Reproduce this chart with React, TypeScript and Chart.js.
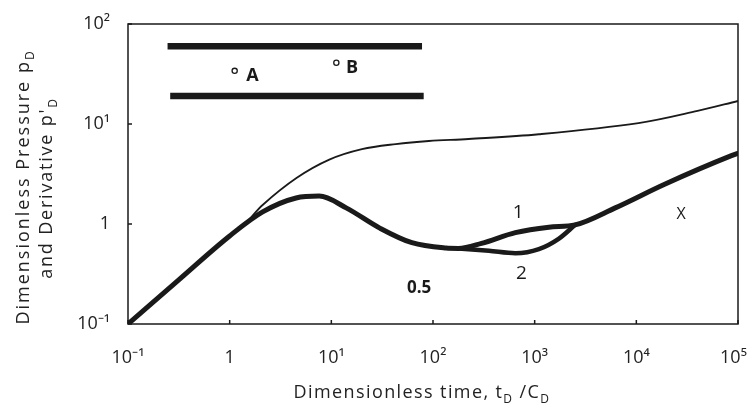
import React, { useEffect, useRef } from "react";
import { Chart, registerables } from "chart.js";

Chart.register(...registerables);

// Axis ticks
const timeTicks = [0.1, 1, 10, 100, 1000, 10000, 100000];
const timeTickLabels = ["10⁻¹", "1", "10¹", "10²", "10³", "10⁴", "10⁵\u2002"];
const pressTicks = [0.1, 1, 10, 100];
const pressTickLabels = ["10⁻¹", "1", "10¹", "10²"];

// Dimensionless pressure (thin curve)
const pressureTime = [0.1, 0.32, 1.0, 1.4, 2.11, 4.54, 9.55, 20, 43, 91, 224, 1100, 10500, 40000, 100000];
const pressureValue = [0.1, 0.28, 0.76, 0.99, 1.55, 2.88, 4.4, 5.6, 6.3, 6.76, 7.08, 7.9, 10.2, 13.5, 17];

// Pressure derivative, case 1 (full thick curve)
const deriv1Time = [0.1, 0.32, 1.0, 2.11, 4.5, 7.6, 14, 30, 62, 134, 178, 300, 646, 1380, 2500, 6200, 19000, 85000, 100000];
const deriv1Value = [0.1, 0.28, 0.76, 1.32, 1.82, 1.9, 1.45, 0.91, 0.65, 0.575, 0.57, 0.64, 0.82, 0.93, 0.98, 1.45, 2.5, 4.8, 5.1];

// Pressure derivative, case 2 (lower branch)
const deriv2Time = [178, 355, 646, 1100, 1720, 2500];
const deriv2Value = [0.57, 0.54, 0.51, 0.56, 0.71, 0.98];

// Reservoir sketch (two horizontal boundaries)
const boundaryTopTime = [0.245, 78];
const boundaryTopValue = [60, 60];
const boundaryBottomTime = [0.26, 81];
const boundaryBottomValue = [19, 19];

// Wells A and B
const wellTime = [1.12, 11.2];
const wellValue = [34, 41];

// Annotation texts
const noteTexts = ["A", "B", "1", "2", "0.5", "X"];
const noteTime = [1.68, 16, 690, 740, 73, 27500];
const noteValue = [30, 36, 1.29, 0.32, 0.23, 1.26];
const noteFonts = [
  "bold 18px 'Open Sans'",
  "bold 18px 'Open Sans'",
  "19px 'Open Sans'",
  "19px 'Open Sans'",
  "bold 17px 'Open Sans'",
  "16px 'Open Sans'",
];

const pts = (xs: number[], ys: number[]) => xs.map((x, i) => ({ x, y: ys[i] }));

const INK = "#1a1a1a";

const decorPlugin = {
  id: "decor",
  afterDatasetsDraw(chart: any) {
    const { ctx, chartArea: a, scales } = chart;
    const xs = scales.x;
    const ys = scales.y;
    ctx.save();
    ctx.strokeStyle = INK;
    ctx.lineWidth = 1.5;
    ctx.strokeRect(a.left, a.top, a.right - a.left, a.bottom - a.top);
    timeTicks.forEach((v) => {
      const px = xs.getPixelForValue(v);
      ctx.beginPath();
      ctx.moveTo(px, a.bottom);
      ctx.lineTo(px, a.bottom - 4);
      ctx.stroke();
    });
    pressTicks.forEach((v) => {
      const py = ys.getPixelForValue(v);
      ctx.beginPath();
      ctx.moveTo(a.left, py);
      ctx.lineTo(a.left + 4, py);
      ctx.stroke();
    });
    ctx.fillStyle = INK;
    ctx.textAlign = "center";
    ctx.textBaseline = "middle";
    noteTexts.forEach((t, i) => {
      ctx.font = noteFonts[i];
      ctx.fillText(t, xs.getPixelForValue(noteTime[i]), ys.getPixelForValue(noteValue[i]));
    });
    ctx.restore();
  },
  afterDraw(chart: any) {
    const { ctx } = chart;
    ctx.save();
    ctx.fillStyle = "#222";
    const base = "18px 'Open Sans'";
    const sub = "12px 'Open Sans'";
    const drawRich = (parts: [string, boolean][], ls: number) => {
      let w = 0;
      const widths: number[] = [];
      parts.forEach(([s, isSub]) => {
        ctx.font = isSub ? sub : base;
        (ctx as any).letterSpacing = ls + "px";
        const m = ctx.measureText(s).width;
        widths.push(m);
        w += m;
      });
      let x = -w / 2;
      parts.forEach(([s, isSub], i) => {
        ctx.font = isSub ? sub : base;
        (ctx as any).letterSpacing = ls + "px";
        ctx.fillText(s, x, isSub ? 5 : 0);
        x += widths[i];
      });
    };
    ctx.textAlign = "left";
    ctx.textBaseline = "alphabetic";
    ctx.save();
    ctx.translate(422, 398);
    drawRich(
      [
        ["Dimensionless time, t", false],
        ["D", true],
        [" /C", false],
        ["D", true],
      ],
      1.4
    );
    ctx.restore();
    ctx.save();
    ctx.translate(29, 187);
    ctx.rotate(-Math.PI / 2);
    drawRich(
      [
        ["Dimensionless Pressure p", false],
        ["D", true],
      ],
      2.0
    );
    ctx.restore();
    ctx.save();
    ctx.translate(52, 188);
    ctx.rotate(-Math.PI / 2);
    drawRich(
      [
        ["and Derivative p", false],
        ["'", false],
        ["D", true],
      ],
      1.8
    );
    ctx.restore();
    ctx.restore();
  },
};

export default function App() {
  const ref = useRef<HTMLCanvasElement | null>(null);
  useEffect(() => {
    if (!ref.current) return;
    const chart = new Chart(ref.current, {
      type: "line",
      data: {
        datasets: [
          {
            label: "Dimensionless pressure",
            data: pts(pressureTime, pressureValue),
            borderColor: INK,
            borderWidth: 1.8,
            pointRadius: 0,
            tension: 0.35,
          },
          {
            label: "Derivative 1",
            data: pts(deriv1Time, deriv1Value),
            borderColor: INK,
            borderWidth: 5,
            borderCapStyle: "round",
            pointRadius: 0,
            cubicInterpolationMode: "monotone",
          },
          {
            label: "Derivative 2",
            data: pts(deriv2Time, deriv2Value),
            borderColor: INK,
            borderWidth: 4.5,
            borderCapStyle: "round",
            pointRadius: 0,
            cubicInterpolationMode: "monotone",
          },
          {
            label: "Upper boundary",
            data: pts(boundaryTopTime, boundaryTopValue),
            borderColor: INK,
            borderWidth: 6.5,
            pointRadius: 0,
          },
          {
            label: "Lower boundary",
            data: pts(boundaryBottomTime, boundaryBottomValue),
            borderColor: INK,
            borderWidth: 6.5,
            pointRadius: 0,
          },
          {
            label: "Wells",
            data: pts(wellTime, wellValue),
            showLine: false,
            pointRadius: 2.6,
            pointBorderWidth: 1.3,
            pointBorderColor: INK,
            pointBackgroundColor: "#ffffff",
          } as any,
        ],
      },
      options: {
        animation: false,
        responsive: false,
        devicePixelRatio: 1,
        layout: { padding: { top: 24, right: 12, left: 0, bottom: 0 } },
        plugins: { legend: { display: false }, tooltip: { enabled: false } },
        scales: {
          x: {
            type: "logarithmic",
            min: 0.1,
            max: 100000,
            grid: { display: false },
            border: { display: false },
            afterBuildTicks: (s: any) => {
              s.ticks = timeTicks.map((v) => ({ value: v }));
            },
            afterFit: (s: any) => {
              s.height = 80;
              s.paddingLeft = 0;
              s.paddingRight = 0;
            },
            ticks: {
              autoSkip: false,
              maxRotation: 0,
              padding: 15,
              color: "#222",
              font: { family: "'Open Sans'", size: 18 },
              callback: (v: any) => {
                const i = timeTicks.findIndex((t) => Math.abs(t - v) / t < 1e-6);
                return i >= 0 ? timeTickLabels[i] : "";
              },
            },
          },
          y: {
            type: "logarithmic",
            min: 0.1,
            max: 100,
            grid: { display: false },
            border: { display: false },
            afterBuildTicks: (s: any) => {
              s.ticks = pressTicks.map((v) => ({ value: v }));
            },
            afterFit: (s: any) => {
              s.width = 128;
              s.paddingTop = 0;
              s.paddingBottom = 0;
            },
            ticks: {
              autoSkip: false,
              padding: 10,
              color: "#222",
              font: { family: "'Open Sans'", size: 18 },
              callback: (v: any) => {
                const i = pressTicks.findIndex((t) => Math.abs(t - v) / t < 1e-6);
                return i >= 0 ? pressTickLabels[i] : "";
              },
            },
          },
        },
      } as any,
      plugins: [decorPlugin],
    });
    return () => chart.destroy();
  }, []);
  return (
    <div style={{ position: "absolute", left: 0, top: 0, width: 750, height: 404, background: "#fff" }}>
      <canvas ref={ref} width={750} height={404} style={{ display: "block" }} />
    </div>
  );
}
